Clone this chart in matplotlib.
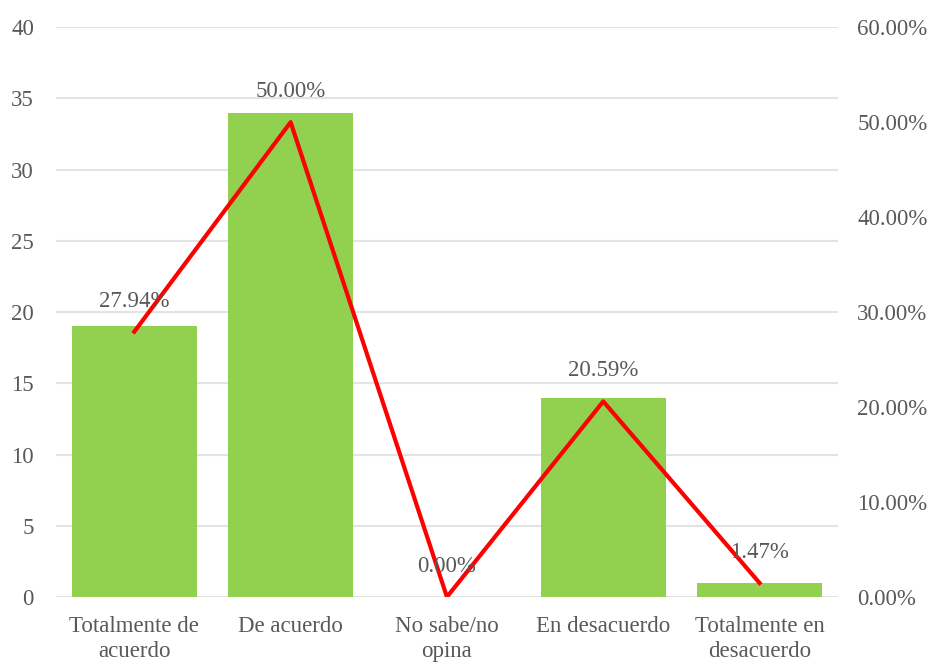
import matplotlib
matplotlib.use('Agg')
from matplotlib import pyplot as plt
from matplotlib.ticker import FuncFormatter
import numpy as np

plt.rcParams['font.family'] = ['Liberation Serif', 'DejaVu Serif']

categories = ['Totalmente de\nacuerdo', 'De acuerdo', 'No sabe/no\nopina',
              'En desacuerdo', 'Totalmente en\ndesacuerdo']
counts = [19, 34, 0, 14, 1]
percents = [27.94, 50.00, 0.00, 20.59, 1.47]

grey = '#595959'
fs = 16.5

fig = plt.figure(figsize=(9.36, 6.64), dpi=100)
ax1 = fig.add_axes([0.060, 0.101, 0.835, 0.858])
ax2 = ax1.twinx()

x = np.arange(len(categories))
ax1.bar(x, counts, width=0.8, color='#92D050', zorder=2)
ax1.set_xlim(-0.5, len(categories) - 0.5)
ax1.set_ylim(0, 40)
ax1.set_yticks(range(0, 41, 5))
ax1.set_xticks(x)
ax1.set_xticklabels(categories, fontsize=fs, color=grey, linespacing=1.2)
ax1.yaxis.grid(True, color='#E3E3E3', linewidth=1.5, zorder=0)
ax1.set_axisbelow(True)

ax2.plot(x, percents, color='#FF0000', linewidth=3, zorder=3)
ax2.set_ylim(0, 60)
ax2.set_yticks(range(0, 61, 10))
ax2.yaxis.set_major_formatter(FuncFormatter(lambda v, p: '%.2f%%' % v))

for xi, p in zip(x, percents):
    ax2.annotate('%.2f%%' % p, (xi, p), xytext=(0, 22), textcoords='offset points',
                 ha='center', va='center', fontsize=fs, color=grey)

for ax in (ax1, ax2):
    for s in ax.spines.values():
        s.set_visible(False)
    ax.tick_params(length=0, labelsize=fs, labelcolor=grey)
ax1.tick_params(axis='y', pad=16)
ax1.tick_params(axis='x', pad=14)
ax2.tick_params(axis='y', pad=14)

fig.savefig('out.png', dpi=100)
